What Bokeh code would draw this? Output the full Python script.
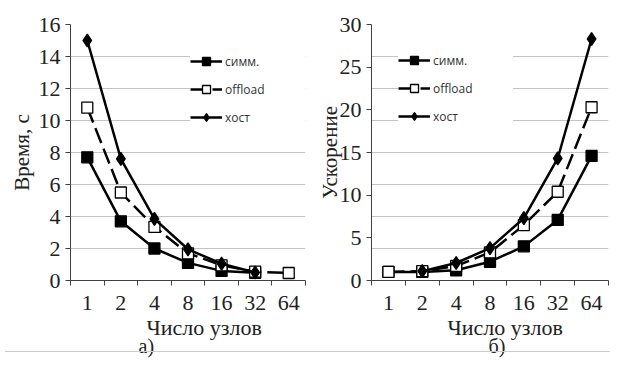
import numpy as np
from bokeh.plotting import figure
from bokeh.models import FixedTicker, Legend, LegendItem, Title, Range1d, Div
from bokeh.layouts import row, column
from bokeh.embed import file_html
from bokeh.resources import INLINE

nodes = ["1", "2", "4", "8", "16", "32", "64"]
series_names = ["симм.", "offload", "хост"]

time_symm = [7.7, 3.7, 2.0, 1.1, 0.6, 0.48, None]
time_offload = [10.8, 5.5, 3.35, 1.7, 0.95, 0.55, 0.47]
time_host = [15.0, 7.6, 3.85, 1.95, 1.05, 0.5, None]

speed_symm = [1.0, 1.0, 1.2, 2.2, 4.0, 7.1, 14.6]
speed_offload = [1.0, 1.1, 1.7, 3.3, 6.5, 10.4, 20.3]
speed_host = [None, 1.1, 2.05, 3.8, 7.3, 14.3, 28.3]

time_ticks = [0, 2, 4, 6, 8, 10, 12, 14, 16]
speed_ticks = [0, 5, 10, 15, 20, 25, 30]
speed_grid = [0, 3.75, 7.5, 11.25, 15, 18.75, 22.5, 26.25, 30]

SERIF = "Liberation Serif"
AX = "#404040"
TXT = "#222222"
FIG_H = 360
FRAME_H = 257


def make(ys, ymax, yticks, gticks, ylabel, caption, width, left, top, frame_w, leg_x, leg_y,
         xl_off, cap_off, ylab_standoff):
    xs = np.arange(len(nodes))
    p = figure(width=width, height=FIG_H, output_backend="svg", toolbar_location=None,
               x_range=Range1d(-0.5, len(nodes) - 0.5), y_range=Range1d(0, ymax),
               min_border_left=left, min_border_top=top,
               min_border_right=width - left - frame_w,
               min_border_bottom=FIG_H - top - FRAME_H)
    p.outline_line_color = None
    p.xgrid.visible = False
    p.ygrid.ticker = FixedTicker(ticks=gticks)
    p.ygrid.grid_line_color = "#c4c4c4"
    p.ygrid.grid_line_width = 1

    xa = p.xaxis[0]
    xa.ticker = FixedTicker(ticks=list(xs), minor_ticks=list(np.arange(len(nodes) + 1) - 0.5))
    xa.major_label_overrides = {int(i): n for i, n in zip(xs, nodes)}
    xa.major_tick_line_color = None
    xa.major_tick_out = 0
    xa.major_tick_in = 0
    xa.minor_tick_out = 5
    xa.minor_tick_in = 0
    xa.minor_tick_line_color = AX
    xa.axis_line_color = AX
    xa.major_label_text_font = SERIF
    xa.major_label_text_font_size = "22px"
    xa.major_label_text_color = TXT
    xa.major_label_standoff = 10

    ya = p.yaxis[0]
    ya.ticker = FixedTicker(ticks=yticks)
    ya.minor_tick_line_color = None
    ya.major_tick_out = 5
    ya.major_tick_in = 0
    ya.major_tick_line_color = AX
    ya.axis_line_color = AX
    ya.major_label_text_font = SERIF
    ya.major_label_text_font_size = "22px"
    ya.major_label_text_color = TXT
    ya.major_label_standoff = 5
    ya.axis_label = ylabel
    ya.axis_label_text_font = SERIF
    ya.axis_label_text_font_size = "21px"
    ya.axis_label_text_font_style = "normal"
    ya.axis_label_text_color = TXT
    ya.axis_label_standoff = ylab_standoff

    items = []
    styles = [
        dict(marker="square", size=11, fill_color="black", dash="solid"),
        dict(marker="square", size=11, fill_color="white", dash="16 6"),
        dict(marker="diamond", size=13, fill_color="black", dash="solid"),
    ]
    for name, yv, st in zip(series_names, ys, styles):
        yarr = np.array(yv, dtype=float)
        lr = p.line(xs, yarr, line_color="black", line_width=2.5, line_dash=st["dash"])
        sr = p.scatter(xs, yarr, marker=st["marker"], size=st["size"], fill_color=st["fill_color"],
                       line_color="black", line_width=1.3)
        items.append(LegendItem(label=name, renderers=[lr, sr]))

    leg = Legend(items=items, location=(leg_x, leg_y), orientation="vertical",
                 glyph_width=32, glyph_height=20, spacing=8, padding=5, margin=0,
                 label_standoff=3, label_text_font="Open Sans", label_text_font_size="12px",
                 label_text_color="#333333", border_line_color=None,
                 background_fill_color="white", background_fill_alpha=1.0, label_width=80)
    p.add_layout(leg, "center")

    t1 = Title(text="Число узлов", align="left", offset=xl_off, text_font=SERIF,
               text_font_size="22px", text_font_style="normal", text_color=TXT, standoff=1)
    p.add_layout(t1, "below")
    t2 = Title(text=caption, align="left", offset=cap_off, text_font=SERIF,
               text_font_size="20px", text_font_style="normal", text_color=TXT, standoff=-16)
    p.add_layout(t2, "below")
    return p


p1 = make([time_symm, time_offload, time_host], 16, time_ticks, time_ticks, "Время, с", "а)",
          310, 70, 23, 235, 120, 153, 76, 68, 2)
p2 = make([speed_symm, speed_offload, speed_host], 30, speed_ticks, speed_grid, "Ускорение", "б)",
          308, 61, 24, 237, 27, 154, 76, 117, -5)

line = Div(text="", width=605, height=1, margin=(-9, 0, 0, 5), styles={"background-color": "#cccccc"})
layout = column(row(p1, p2), line)

open("out.html", "w").write(file_html(layout, INLINE))
